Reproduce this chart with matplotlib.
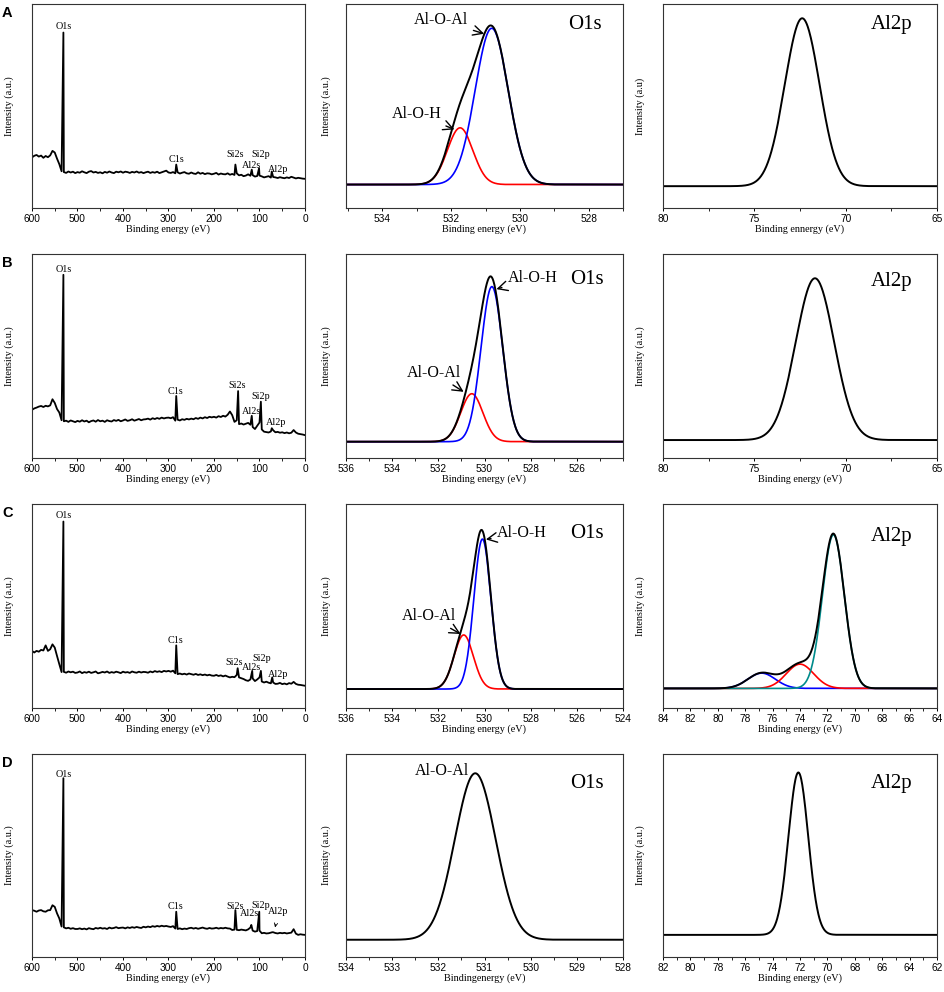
import numpy as np
import matplotlib.pyplot as plt
from matplotlib.ticker import MultipleLocator

SERIF = 'Liberation Serif'
SANS = 'Liberation Sans'

# ---- survey spectra (values in % of axis height, 600 -> 0 eV every 5 eV) ----
survey_energy = list(range(600, -1, -5))

survey_A = [24.8, 25.6, 26.0, 25.2, 25.7, 24.6, 25.5, 24.9, 25.8, 28.0,
            27.2, 24.2, 21.5, 18.0, 17.6, 17.2, 17.9, 17.4, 17.8, 17.1,
            17.6, 17.3, 18.0, 17.5, 17.1, 17.8, 18.1, 17.4, 17.7, 17.2,
            17.5, 17.0, 17.7, 17.3, 17.9, 17.4, 17.1, 17.8, 17.5, 17.9,
            17.3, 17.8, 17.6, 17.2, 17.7, 17.4, 17.9, 17.3, 17.6, 17.1,
            17.5, 17.8, 17.2, 17.6, 17.3, 17.8, 17.1, 17.5, 17.9, 18.3,
            17.4, 17.2, 17.6, 17.0, 17.5, 16.9, 17.3, 17.6, 17.0, 16.8,
            17.4, 16.9, 16.7, 17.5, 16.8, 17.2, 16.6, 17.0, 16.9, 16.5,
            16.8, 17.2, 16.4, 16.9, 16.6, 16.5, 17.0, 16.3, 16.7, 16.2,
            17.0, 16.0, 16.3, 15.6, 15.9, 16.5, 15.8, 16.1, 15.4, 15.7,
            15.9, 15.5, 15.0, 15.3, 15.6, 14.9, 15.2, 15.0, 14.7, 15.1,
            14.8, 14.6, 15.0, 14.7, 15.3, 14.9, 14.5, 14.8, 14.6, 14.4,
            14.3]
survey_B = [23.6, 24.3, 24.7, 25.2, 25.5, 25.0, 25.6, 25.3, 25.8, 28.8,
            27.0, 24.0, 22.3, 18.5, 18.0, 18.3, 17.7, 18.4, 18.0, 17.6,
            18.2, 17.8, 18.5, 17.9, 18.3, 17.5, 18.1, 18.4, 17.8, 18.6,
            18.0, 18.3, 17.7, 18.5, 18.1, 17.9, 18.6, 18.2, 18.7, 18.0,
            18.4, 18.9, 18.2, 18.5, 19.0, 18.3, 18.7, 19.1, 18.5, 18.9,
            19.0, 19.3, 18.8, 19.5, 19.1, 19.6, 19.2, 19.8, 19.4, 19.7,
            19.8, 19.5, 20.0, 18.3, 18.8, 18.4, 19.0, 18.7, 19.2, 18.9,
            19.3, 19.0, 19.6, 19.2, 19.8, 19.4, 20.0, 19.6, 20.2, 19.9,
            20.2, 19.8, 20.5, 20.1, 20.7, 20.3, 21.2, 22.8, 21.0, 17.7,
            18.5, 16.6, 16.9, 16.4, 16.8, 17.2, 16.3, 15.2, 14.2, 15.8,
            17.4, 14.0, 12.9, 12.7, 12.5, 13.0, 13.6, 12.6, 12.8, 12.4,
            12.6, 12.2, 12.5, 12.1, 12.4, 13.7, 12.5, 11.9, 11.7, 11.5,
            11.2]
survey_C = [28.0, 27.2, 28.0, 27.6, 28.5, 28.2, 30.7, 28.0, 28.8, 31.2,
            29.6, 25.5, 21.5, 17.6, 17.7, 17.3, 17.9, 17.5, 17.8, 17.2,
            17.4, 17.9, 17.1, 17.6, 17.3, 17.8, 17.2, 17.5, 17.9, 17.0,
            17.3, 17.7, 17.4, 17.9, 17.2, 17.6, 17.3, 17.8, 17.5, 17.1,
            17.8, 17.4, 17.6, 17.2, 17.9, 17.5, 17.3, 17.8, 17.4, 17.7,
            17.6, 17.3, 17.9, 17.5, 18.1, 17.7, 18.0, 17.6, 18.2, 17.9,
            18.2, 17.8, 18.3, 17.0, 16.6, 16.9, 16.5, 16.8, 16.4, 16.9,
            16.6, 16.3, 16.7, 16.2, 16.5, 16.1, 16.4, 16.0, 16.3, 15.9,
            15.8, 16.2, 15.7, 16.0, 15.5, 15.9, 15.4, 15.0, 15.3, 15.1,
            16.2, 15.0, 14.6, 14.2, 13.6, 13.3, 14.0, 14.5, 13.2, 14.0,
            15.0, 13.0, 12.5, 12.9, 12.4, 12.1, 12.5, 11.8, 11.9, 12.3,
            11.7, 12.0, 11.6, 12.2, 11.9, 12.8, 11.8, 11.4, 11.3, 11.1,
            10.9]
survey_D = [23.1, 22.8, 22.3, 22.9, 23.1, 22.5, 22.3, 23.0, 23.1, 25.5,
            24.7, 21.5, 19.0, 15.0, 14.6, 14.1, 14.4, 13.9, 14.2, 13.8,
            13.8, 14.1, 13.7, 14.0, 13.6, 14.2, 13.9, 13.7, 14.3, 14.0,
            14.4, 14.0, 14.2, 13.8, 14.5, 14.1, 14.3, 14.7, 14.2, 14.4,
            14.5, 14.1, 14.6, 14.3, 14.7, 14.4, 14.8, 14.5, 14.3, 14.9,
            14.6, 15.0, 14.7, 15.2, 14.9, 15.3, 15.0, 15.4, 15.1, 15.3,
            15.0, 14.8, 15.2, 14.0, 13.8, 14.1, 13.7, 14.0, 13.8, 14.2,
            14.4, 14.0, 14.3, 13.9, 14.2, 14.5, 14.1, 13.9, 14.3, 14.0,
            14.1, 14.4, 14.0, 14.3, 14.1, 14.4, 14.1, 14.0, 13.3, 13.5,
            13.4, 13.2, 13.5, 13.3, 13.1, 13.6, 14.5, 13.0, 12.5, 12.8,
            13.0, 11.7, 11.9, 11.6, 11.7, 12.0, 12.2, 11.8, 11.6, 11.9,
            11.7, 11.9, 11.6, 11.8, 12.0, 13.7, 11.5, 10.9, 11.2, 11.0,
            10.9]

survey_labels = ['O1s', 'C1s', 'Si2s', 'Al2s', 'Si2p', 'Al2p']
# peak apex positions / heights
peaks_A_x = [531, 283, 153, 117, 101, 73]
peaks_A_y = [86.0, 21.3, 21.3, 18.8, 19.5, 17.9]
peaks_B_x = [531, 283, 147, 117, 97, 73]
peaks_B_y = [89.8, 30.4, 32.8, 20.7, 27.6, 14.6]
peaks_C_x = [531, 283, 148, 116, 97, 72]
peaks_C_y = [91.4, 30.7, 19.5, 18.2, 18.2, 15.0]
peaks_D_x = [531, 283, 153, 118, 100.5, 72]
peaks_D_y = [88.1, 22.3, 23.1, 15.8, 22.3, 12.2]
# label anchor points
labels_A_xy = [(531, 89), (283, 24), (154, 26), (117, 21.0), (98, 26.0), (59, 19)]
labels_B_xy = [(531, 92.5), (284, 32.4), (149, 35.3), (117, 23), (97, 30), (64, 17.4)]
labels_C_xy = [(531, 94.6), (284, 33.3), (156, 22.3), (117, 19.8), (95, 24.5), (59, 16.6)]
labels_D_xy = [(531, 90), (284, 24.7), (154, 25), (122, 21.6), (97, 25.6), (60, 22.3)]

# ---- high-resolution fits: (centre eV, height %, sigma eV) ----
o1s_A = dict(base=11.5, c=[531.74, 530.82], h=[27.8, 76.6], s=[0.37, 0.48])
o1s_B = dict(base=8.0, c=[530.55, 529.68], h=[23.5, 76.0], s=[0.48, 0.47])
o1s_C = dict(base=9.3, c=[530.90, 530.09], h=[26.5, 73.5], s=[0.42, 0.37])
o1s_D = dict(base=8.5, c=[531.20], h=[82.0], s=[0.44])
al2p_A = dict(base=10.7, c=[72.38], h=[82.3], s=[0.95])
al2p_B = dict(base=8.8, c=[71.68], h=[79.3], s=[1.05])
al2p_C = dict(base=9.6, c=[76.8, 74.0, 71.56], h=[7.5, 11.9, 75.3], s=[1.0, 1.0, 0.8])
al2p_D = dict(base=10.9, c=[72.12], h=[80.0], s=[0.72])

fig = plt.figure(figsize=(9.45, 9.92), dpi=100)
W, H = 945, 992
col_px = [(32, 305), (346, 623), (663, 937)]
row_px = [(4, 208), (254, 458), (504, 708), (754, 957)]


def make_ax(r, c):
    l, rr = col_px[c]
    t, b = row_px[r]
    ax = fig.add_axes([l / W, 1 - b / H, (rr - l) / W, (b - t) / H])
    ax.set_ylim(0, 100)
    ax.set_yticks([])
    for sp in ax.spines.values():
        sp.set_linewidth(0.8)
        sp.set_color('#333333')
    ax.tick_params(axis='x', which='major', direction='out', length=2.5, width=0.7,
                   labelsize=7.3, pad=1.5)
    ax.tick_params(axis='x', which='minor', direction='out', length=1.8, width=0.6)
    return ax


def finish(ax, xlabel, ylabel, ylab_x):
    ax.set_xlabel(xlabel, family=SERIF, fontsize=7.3)
    ax.xaxis.set_label_coords(0.5, -0.08)
    ax.set_ylabel(ylabel, family=SERIF, fontsize=7.3)
    ax.yaxis.set_label_coords(ylab_x, 0.5)
    for lab in ax.get_xticklabels():
        lab.set_family(SANS)


def gauss(x, c, h, s):
    return h * np.exp(-(x - c) ** 2 / (2 * s ** 2))


surveys = [(survey_A, peaks_A_x, peaks_A_y, labels_A_xy),
           (survey_B, peaks_B_x, peaks_B_y, labels_B_xy),
           (survey_C, peaks_C_x, peaks_C_y, labels_C_xy),
           (survey_D, peaks_D_x, peaks_D_y, labels_D_xy)]

for r, (base, px, py, lxy) in enumerate(surveys):
    ax = make_ax(r, 0)
    xs = survey_energy + px
    ys = base + py
    order = np.argsort(xs)
    ax.plot(np.array(xs)[order], np.array(ys)[order], color='black', lw=1.3)
    ax.set_xlim(600, 0)
    ax.xaxis.set_major_locator(MultipleLocator(100))
    ax.xaxis.set_minor_locator(MultipleLocator(50))
    for name, (tx, ty) in zip(survey_labels, lxy):
        ax.text(tx, ty, name, family=SERIF, fontsize=7.3, ha='center', va='center')
    if r == 3:
        ax.annotate('', xy=(67, 13.2), xytext=(63, 17.5),
                    arrowprops=dict(arrowstyle='->,head_length=0.25,head_width=0.12', lw=0.6))
    finish(ax, 'Binding energy (eV)', 'Intensity (a.u.)', -0.066)
    ax.text(-0.09, 0.955, 'ABCD'[r], transform=ax.transAxes, family=SANS,
            fontsize=10.5, fontweight='bold', ha='center', va='center')


def draw_fit(ax, fit, colors, xlim):
    x = np.linspace(xlim[1], xlim[0], 800)
    total = np.zeros_like(x)
    for c, h, s, col in zip(fit['c'], fit['h'], fit['s'], colors):
        comp = gauss(x, c, h, s)
        total += comp
        if len(fit['c']) > 1:
            ax.plot(x, fit['base'] + comp, color=col, lw=1.2)
    ax.plot(x, fit['base'] + total, color='black', lw=1.4)
    ax.set_xlim(*xlim)


arrow = dict(arrowstyle='->,head_length=0.6,head_width=0.3', lw=1.0, color='black')

# ---- O1s column ----
o1s_cfg = [(o1s_A, (535.06, 527.0), 1, [534, 532, 530, 528], 'Binding energy (eV)'),
           (o1s_B, (536, 524), 1, [536, 534, 532, 530, 528, 526], 'Binding energy (eV)'),
           (o1s_C, (536, 524), 1, [536, 534, 532, 530, 528, 526, 524], 'Binding energy (eV)'),
           (o1s_D, (534, 528), 0.5, [534, 533, 532, 531, 530, 529, 528], 'Bindingenergy (eV)')]
o_axes = []
for r, (fit, xlim, minor, ticks, xl) in enumerate(o1s_cfg):
    ax = make_ax(r, 1)
    draw_fit(ax, fit, ['red', 'blue'], xlim)
    ax.xaxis.set_minor_locator(MultipleLocator(minor))
    ax.set_xticks(ticks)
    ax.set_xticklabels([str(t) for t in ticks])
    finish(ax, xl, 'Intensity (a.u.)', -0.054)
    o_axes.append(ax)

o_axes[0].annotate('Al-O-Al', xy=(530.96, 85), xytext=(532.3, 92), family=SERIF,
                   fontsize=11.5, ha='center', va='center', arrowprops=arrow)
o_axes[0].annotate('Al-O-H', xy=(531.83, 38), xytext=(533.0, 46), family=SERIF,
                   fontsize=11.5, ha='center', va='center', arrowprops=arrow)
o_axes[0].text(528.1, 90, 'O1s', family=SERIF, fontsize=15, ha='center', va='center')

o_axes[1].annotate('Al-O-H', xy=(529.6, 82.4), xytext=(527.93, 88), family=SERIF,
                   fontsize=11.5, ha='center', va='center', arrowprops=arrow)
o_axes[1].annotate('Al-O-Al', xy=(530.8, 31.7), xytext=(532.2, 41.8), family=SERIF,
                   fontsize=11.5, ha='center', va='center', arrowprops=arrow)
o_axes[1].text(525.57, 87.6, 'O1s', family=SERIF, fontsize=15, ha='center', va='center')

o_axes[2].annotate('Al-O-H', xy=(530.06, 82.4), xytext=(528.4, 85.7), family=SERIF,
                   fontsize=11.5, ha='center', va='center', arrowprops=arrow)
o_axes[2].annotate('Al-O-Al', xy=(530.93, 35.6), xytext=(532.4, 45), family=SERIF,
                   fontsize=11.5, ha='center', va='center', arrowprops=arrow)
o_axes[2].text(525.57, 85.7, 'O1s', family=SERIF, fontsize=15, ha='center', va='center')

o_axes[3].text(531.93, 91.4, 'Al-O-Al', family=SERIF, fontsize=11.5, ha='center', va='center')
o_axes[3].text(528.78, 85.7, 'O1s', family=SERIF, fontsize=15, ha='center', va='center')

# ---- Al2p column ----
al_cfg = [(al2p_A, (80, 65), 5, 2.5, ['black'], 'Binding ennergy (eV)', 'Intensity (a.u)', (67.5, 90)),
          (al2p_B, (80, 65), 5, 2.5, ['black'], 'Binding energy (eV)', 'Intensity (a.u.)', (67.5, 86.5)),
          (al2p_C, (84, 64), 2, 1, ['blue', 'red', '#008b8b'], 'Binding energy (eV)', 'Intensity (a.u.)', (67.3, 84)),
          (al2p_D, (82, 62), 2, 1, ['black'], 'Binding energy (eV)', 'Intensity (a.u.)', (65.3, 85.7))]
for r, (fit, xlim, major, minor, cols, xl, yl, lab) in enumerate(al_cfg):
    ax = make_ax(r, 2)
    draw_fit(ax, fit, cols, xlim)
    ax.xaxis.set_major_locator(MultipleLocator(major))
    ax.xaxis.set_minor_locator(MultipleLocator(minor))
    ax.text(lab[0], lab[1], 'Al2p', family=SERIF, fontsize=15, ha='center', va='center')
    finish(ax, xl, yl, -0.066)

fig.savefig('out.png', dpi=100)
